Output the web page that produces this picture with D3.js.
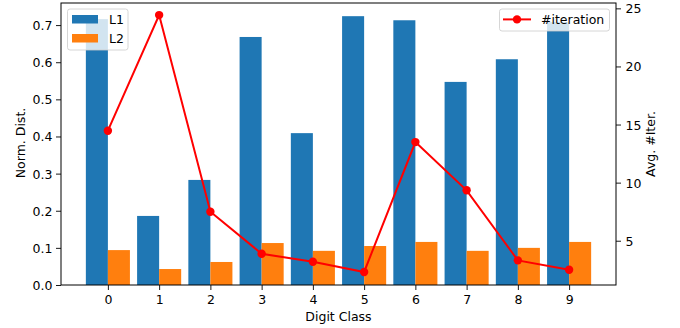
<!DOCTYPE html>
<html>
<head>
<meta charset="utf-8">
<script src="https://d3js.org/d3.v7.min.js"></script>
<style>
  body { margin: 0; background: #fff; }
  text { font-family: "DejaVu Sans", sans-serif; font-size: 12.5px; fill: #000; }
</style>
</head>
<body>
<script>

// data
var classes = ["0", "1", "2", "3", "4", "5", "6", "7", "8", "9"];
var l1 = [0.716, 0.186, 0.283, 0.668, 0.409, 0.724, 0.713, 0.547, 0.608, 0.708];
var l2 = [0.094, 0.043, 0.062, 0.113, 0.092, 0.105, 0.116, 0.092, 0.100, 0.116];
var iters = [14.47, 24.42, 7.50, 3.88, 3.19, 2.31, 13.49, 9.34, 3.31, 2.50];
var leftTicks = [0, 0.1, 0.2, 0.3, 0.4, 0.5, 0.6, 0.7];
var rightTicks = [5, 10, 15, 20, 25];

let width = 680, height = 328;
let pL = 61, pR = 616, pT = 3, pB = 285;
let bw = 0.43;

var svg = d3.select("body").append("svg").attr("width", width).attr("height", height);

var x = d3.scaleLinear().domain([-0.915, 9.915]).range([pL, pR]);
var y = d3.scaleLinear().domain([0, 0.7595]).range([pB, pT]);
var y2 = d3.scaleLinear().domain([1.19, 25.46]).range([pB, pT]);

// bars
svg.append("g").selectAll("rect.l1")
  .data(l1).enter().append("rect")
  .attr("x", function(d, i){ return x(i - bw) })
  .attr("width", function(d, i){ return x(i) - x(i - bw) })
  .attr("y", function(d){ return y(d) })
  .attr("height", function(d){ return y(0) - y(d) })
  .attr("fill", "#1f77b4");

svg.append("g").selectAll("rect.l2")
  .data(l2).enter().append("rect")
  .attr("x", function(d, i){ return x(i) })
  .attr("width", function(d, i){ return x(i + bw) - x(i) })
  .attr("y", function(d){ return y(d) })
  .attr("height", function(d){ return y(0) - y(d) })
  .attr("fill", "#ff7f0e");

// axes
var xAxis = svg.append("g").attr("transform", "translate(0," + pB + ")")
  .call(d3.axisBottom(x).tickValues(d3.range(10)).tickFormat(function(d){ return classes[d] }).tickSizeOuter(0).tickSize(5).tickPadding(5));
var yAxis = svg.append("g").attr("transform", "translate(" + pL + ",0)")
  .call(d3.axisLeft(y).tickValues(leftTicks).tickFormat(d3.format(".1f")).tickSizeOuter(0).tickSize(5).tickPadding(3.5));
var y2Axis = svg.append("g").attr("transform", "translate(" + pR + ",0)")
  .call(d3.axisRight(y2).tickValues(rightTicks).tickSizeOuter(0).tickSize(5).tickPadding(4.5));

[xAxis, yAxis, y2Axis].forEach(function(a){
  a.select(".domain").remove();
  a.selectAll("line").attr("stroke", "#000").attr("stroke-width", 0.9);
  a.selectAll("text").style("font-family", "DejaVu Sans").style("font-size", "12.5px").attr("fill", "#000");
});
yAxis.selectAll("text").attr("dy", "0.36em");
y2Axis.selectAll("text").attr("dy", "0.36em");

// frame
svg.append("rect").attr("x", pL).attr("y", pT).attr("width", pR - pL).attr("height", pB - pT)
  .attr("fill", "none").attr("stroke", "#000").attr("stroke-width", 1);

// left legend
var lg = svg.append("g");
lg.append("rect").attr("x", 67.5).attr("y", 9).attr("width", 60.5).attr("height", 41).attr("rx", 2.5)
  .attr("fill", "#fff").attr("fill-opacity", 0.8).attr("stroke", "#ccc").attr("stroke-width", 0.8);
[["L1", "#1f77b4"], ["L2", "#ff7f0e"]].forEach(function(e, i){
  lg.append("rect").attr("x", 72).attr("y", 15 + i * 19).attr("width", 26).attr("height", 8.5).attr("fill", e[1]);
  lg.append("text").attr("x", 109).attr("y", 23.9 + i * 18.8).text(e[0]);
});

// line on the right axis
svg.append("path").datum(iters)
  .attr("d", d3.line().x(function(d, i){ return x(i) }).y(function(d){ return y2(d) }))
  .attr("fill", "none").attr("stroke", "red").attr("stroke-width", 2);
svg.append("g").selectAll("circle").data(iters).enter().append("circle")
  .attr("cx", function(d, i){ return x(i) })
  .attr("cy", function(d){ return y2(d) })
  .attr("r", 4.2).attr("fill", "red");

// right legend
var rg = svg.append("g");
rg.append("rect").attr("x", 499.5).attr("y", 9).attr("width", 110).attr("height", 22).attr("rx", 2.5)
  .attr("fill", "#fff").attr("fill-opacity", 0.8).attr("stroke", "#ccc").attr("stroke-width", 0.8);
rg.append("line").attr("x1", 503).attr("x2", 531).attr("y1", 19.4).attr("y2", 19.4).attr("stroke", "red").attr("stroke-width", 2);
rg.append("circle").attr("cx", 517).attr("cy", 19.4).attr("r", 4.2).attr("fill", "red");
rg.append("text").attr("x", 541).attr("y", 23.9).text("#iteration");

// axis labels
svg.append("text").attr("x", (pL + pR) / 2).attr("y", 321).attr("text-anchor", "middle").text("Digit Class");
svg.append("text").attr("transform", "translate(25,143) rotate(-90)").attr("text-anchor", "middle").text("Norm. Dist.");
svg.append("text").attr("transform", "translate(655,144) rotate(-90)").attr("text-anchor", "middle").text("Avg. #Iter.");

</script>
</body>
</html>
